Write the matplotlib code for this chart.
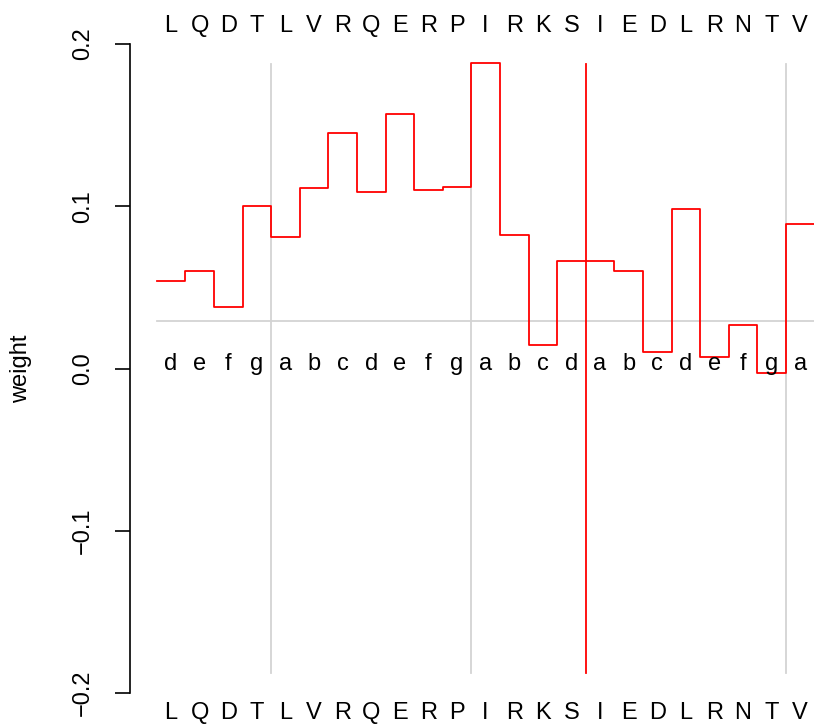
import numpy as np
import matplotlib
matplotlib.use("Agg")
import matplotlib.pyplot as plt

plt.rcParams['font.family'] = ['Liberation Sans', 'DejaVu Sans']

# sequence, heptad positions and per-residue weights
residues = list("LQDTLVRQERPIRKSIEDLRNTV")
heptad = list("defgabcdefgabcdabcdefga")
weights = [0.054, 0.060, 0.038, 0.100, 0.081, 0.111, 0.145, 0.109, 0.157,
           0.110, 0.112, 0.188, 0.082, 0.0145, 0.066, 0.066, 0.060, 0.010,
           0.098, 0.007, 0.027, -0.003, 0.089]
gray_breaks = [4.5, 11.5, 22.5]
red_break = 15.5
baseline = 0.029
yticks = [-0.2, -0.1, 0.0, 0.1, 0.2]
ytick_labels = ['\u22120.2', '\u22120.1', '0.0', '0.1', '0.2']

W, H = 814, 726
fig = plt.figure(figsize=(W / 100, H / 100), dpi=100)
left, right = 130, 814
top, bottom = 44, 693
ax = fig.add_axes([left / W, 1 - bottom / H, (right - left) / W, (bottom - top) / H])

n = len(residues)
x = np.arange(1, n + 1)
step = 28.6
ax.set_xlim(1 + (left - 171) / step, 1 + (right - 171) / step)
ax.set_ylim(-0.2, 0.2)
per_px = 0.4 / (bottom - top)

# guide lines
ax.plot([0.5, n + 1], [baseline, baseline], color='#d3d3d3', lw=1.3, zorder=1)
for b in gray_breaks:
    ax.plot([b, b], [-0.1875, 0.1875], color='#d3d3d3', lw=1.3, zorder=1)
ax.plot([red_break, red_break], [-0.1875, 0.1875], color='red', lw=1.3, zorder=2)

# step line of weights
edges = np.concatenate([x - 0.5, [n + 0.5]])
vals = np.concatenate([weights, [weights[-1]]])
ax.step(edges, vals, where='post', color='red', lw=1.3, zorder=3)

for xi, r, h in zip(x, residues, heptad):
    ax.text(xi, 0.2 + 18 * per_px, r, ha='center', va='center',
            fontsize=17, clip_on=False)
    ax.text(xi, -0.2 - 20 * per_px, r, ha='center', va='center',
            fontsize=17, clip_on=False)
    ax.text(xi, 0.0025, h, ha='center', va='center', fontsize=17)

for s in ['top', 'right', 'bottom']:
    ax.spines[s].set_visible(False)
ax.spines['left'].set_linewidth(1.2)
ax.set_xticks([])
ax.set_yticks(yticks)
ax.set_yticklabels(ytick_labels, rotation=90, va='center', fontsize=17)
ax.tick_params(axis='y', length=10.8, width=1.2, pad=15)
ax.set_ylabel('weight', fontsize=17, labelpad=29)

fig.savefig('out.png', dpi=100)
